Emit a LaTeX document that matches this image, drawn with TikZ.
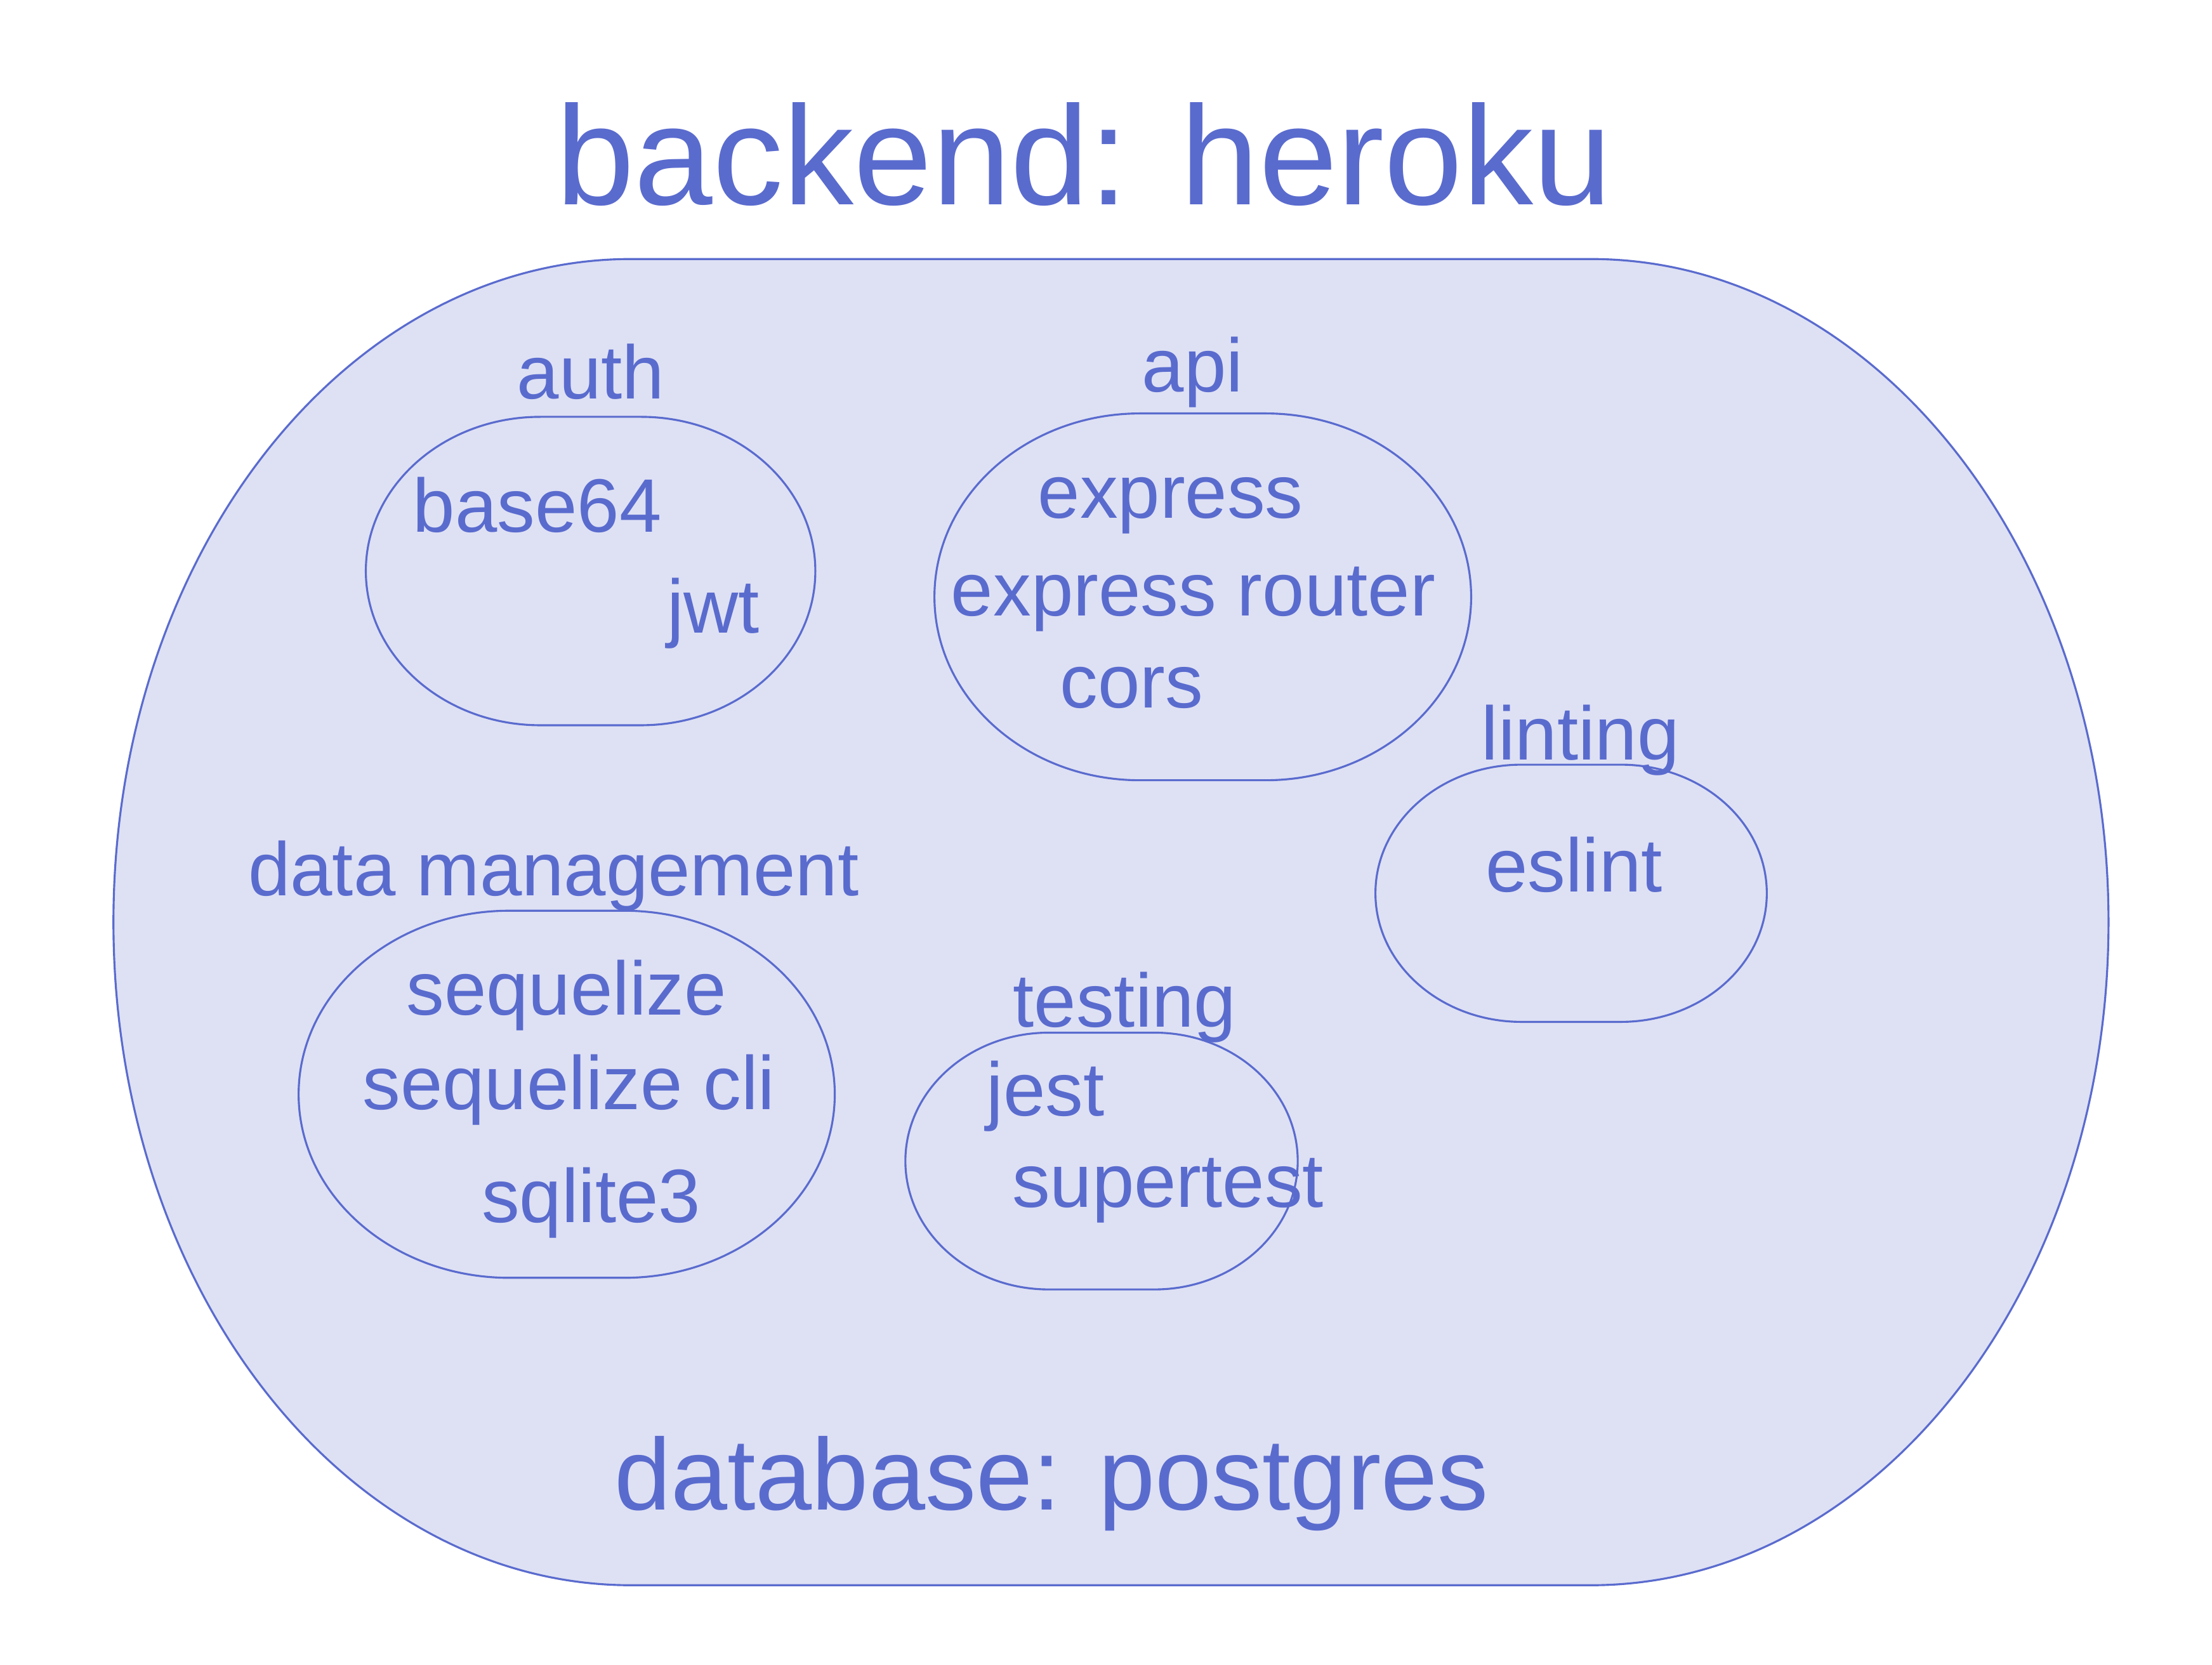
\documentclass[tikz,border=0pt]{standalone}
\usepackage{fontspec}
\setmainfont{Liberation Sans}
\definecolor{inkblue}{HTML}{5A6BCE}
\definecolor{paleblue}{HTML}{DEE1F4}
\tikzset{
  blobline/.style={draw=inkblue, line width=0.4pt, fill=paleblue},
  txt/.style={inner sep=0pt, anchor=base, text=inkblue, font=\fontsize{15.2}{18}\selectfont},
  grouplbl/.style={txt},
  titletxt/.style={inner sep=0pt, anchor=base, text=inkblue, font=\fontsize{28.3}{34}\selectfont},
  dbtxt/.style={inner sep=0pt, anchor=base, text=inkblue, font=\fontsize{20.4}{24}\selectfont}
}
% #1 left end of flat, #2 right end of flat, #3 top y, #4 bottom y, #5 x radius (cm)
\newcommand\blobshape[5]{%
  \pgfmathsetmacro\blobry{(#3-#4)/2}%
  \path[blobline] (#1,#3) -- (#2,#3)
    arc[start angle=90, end angle=-90, x radius=#5cm, y radius=\blobry cm]
    -- (#1,#4)
    arc[start angle=270, end angle=90, x radius=#5cm, y radius=\blobry cm]
    -- cycle;}
\begin{document}
\begin{tikzpicture}
\fill[white] (0,0) rectangle (15.60,11.742);
\useasboundingbox (0,0) rectangle (15.60,11.742);

% outer
\blobshape{4.45}{11.22}{9.915}{0.562}{3.65}
% auth
\blobshape{3.81}{4.52}{8.802}{6.627}{1.23}
% api
\blobshape{8.04}{8.925}{8.826}{6.239}{1.45}
% linting
\blobshape{10.73}{11.43}{6.349}{4.535}{1.03}
% data management
\blobshape{3.592}{4.401}{5.319}{2.730}{1.486}
% testing
\blobshape{7.396}{8.141}{4.459}{2.648}{1.011}

\node[titletxt] (title) at (7.645,10.297) {backend: heroku};
\node[dbtxt] (db) at (7.415,1.094) {database: postgres};

\node[grouplbl] (auth) at (4.166,8.927) {auth};
\node[txt] (base64) at (3.789,7.991) {base64};
\node[txt] (jwt) at (5.03,7.276) {jwt};

\node[grouplbl] (api) at (8.41,8.977) {api};
\node[txt] (express) at (8.255,8.086) {express};
\node[txt] (router) at (8.415,7.401) {express router};
\node[txt] (cors) at (7.98,6.752) {cors};

\node[grouplbl] (linting) at (11.146,6.385) {linting};
\node[txt] (eslint) at (11.10,5.454) {eslint};

\node[grouplbl] (data) at (3.904,5.427) {data management};
\node[txt] (seq) at (3.994,4.585) {sequelize};
\node[txt] (seqcli) at (4.012,3.916) {sequelize cli};
\node[txt] (sqlite) at (4.169,3.122) {sqlite3};

\node[grouplbl] (testing) at (7.932,4.497) {testing};
\node[txt] (jest) at (7.373,3.873) {jest};
\node[txt] (supertest) at (8.237,3.226) {supertest};
\end{tikzpicture}
\end{document}
